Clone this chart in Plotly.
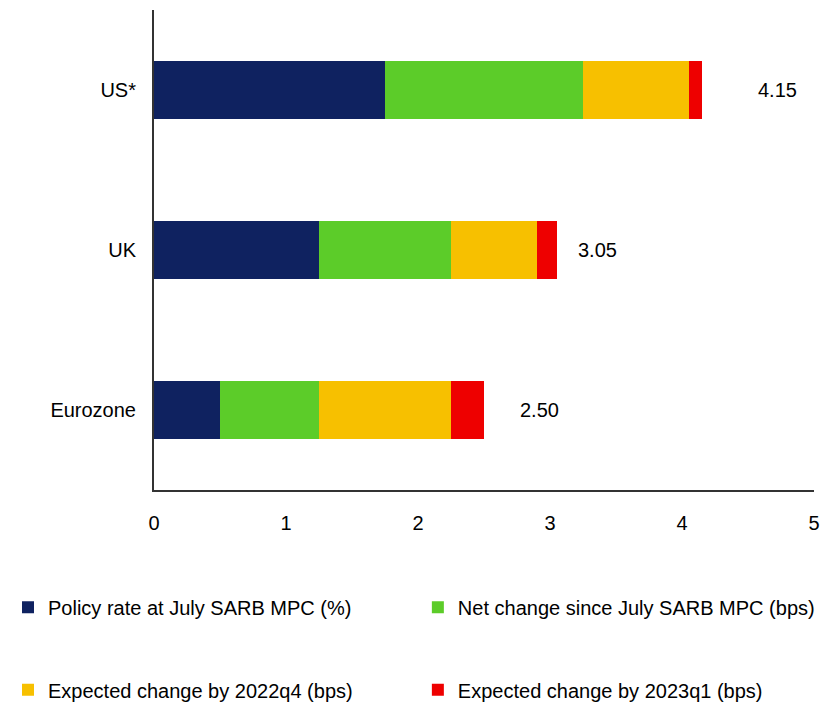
import plotly.graph_objects as go

categories = ["US*", "UK", "Eurozone"]
policy_rate = [1.75, 1.25, 0.50]
net_change = [1.50, 1.00, 0.75]
exp_2022q4 = [0.80, 0.65, 1.00]
exp_2023q1 = [0.10, 0.15, 0.25]
totals = [4.15, 3.05, 2.50]
total_labels = ["4.15", "3.05", "2.50"]

series_names = [
    "Policy rate at July SARB MPC (%)",
    "Net change since July SARB MPC (bps)",
    "Expected change by 2022q4 (bps)",
    "Expected change by 2023q1 (bps)",
]
colors = ["#0F2260", "#5CCC29", "#F7C000", "#EE0000"]
legend_ids = ["legend2", "legend3", "legend4", "legend5"]
legend_pos = [(0.0, 0.150), (0.495, 0.150), (0.0, 0.033), (0.495, 0.033)]

FONT = "Liberation Sans, Arial, sans-serif"
FS = 20

fig = go.Figure()
for name, vals, col, lg in zip(series_names, [policy_rate, net_change, exp_2022q4, exp_2023q1], colors, legend_ids):
    fig.add_trace(go.Bar(
        y=categories, x=vals, orientation="h", name=name,
        marker=dict(color=col, line=dict(width=0)), width=0.36, legend=lg,
        showlegend=True,
    ))

label_xshift = [76, 41, 55]
for cat, tot, lab, sh in zip(categories, totals, total_labels, label_xshift):
    fig.add_annotation(x=tot, y=cat, text=lab, showarrow=False, xanchor="center",
                       xshift=sh, font=dict(size=FS, color="#000000", family=FONT))

legend_layout = {}
for lg, (lx, ly) in zip(legend_ids, legend_pos):
    legend_layout[lg] = dict(
        orientation="h", x=lx, y=ly, xref="container", yref="container",
        xanchor="left", yanchor="middle", itemwidth=30,
        font=dict(size=FS, family=FONT, color="#000000"),
        bgcolor="rgba(0,0,0,0)", visible=True,
    )

fig.update_layout(
    width=828, height=705,
    margin=dict(l=146, r=22, t=2, b=223, autoexpand=False),
    barmode="stack",
    plot_bgcolor="white", paper_bgcolor="white",
    font=dict(family=FONT, size=FS, color="#000000"),
    showlegend=True,
    xaxis=dict(range=[0, 5], dtick=1, showgrid=False, zeroline=False,
               showline=True, linecolor="#333333", linewidth=2,
               ticks="", ticklabelstandoff=14, tickfont=dict(size=FS)),
    yaxis=dict(showgrid=False, zeroline=False,
               showline=True, linecolor="#333333", linewidth=2,
               ticks="", ticklabelstandoff=12, tickfont=dict(size=FS),
               range=[2.5, -0.5]),
    **legend_layout,
)

fig.write_html("out.html")
